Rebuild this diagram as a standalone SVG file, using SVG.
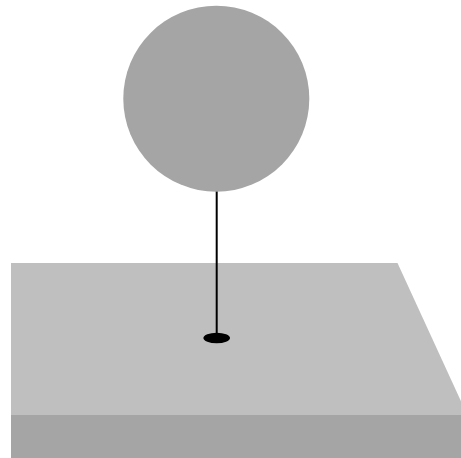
<svg xmlns="http://www.w3.org/2000/svg" width="461" height="458" viewBox="0 0 461 458">
  <style>
    .top { fill: #bfbfbf; }
    .side { fill: #a5a5a5; }
    .balloon { fill: #a5a5a5; }
    .string { stroke: #000; stroke-width: 2; fill: none; }
    .anchor { fill: #000; }
  </style>
  <g id="platform">
    <polygon class="top" points="11,263 397.5,263 467.3,415 11,415"/>
    <rect class="side" x="11" y="415" width="460" height="50"/>
  </g>
  <g id="connectors">
    <line class="string" x1="216.7" y1="190" x2="216.7" y2="338"/>
  </g>
  <g id="balloon">
    <circle class="balloon" cx="216.3" cy="98.7" r="93"/>
  </g>
  <g id="anchor">
    <ellipse class="anchor" cx="216.7" cy="338" rx="13.3" ry="5.3"/>
  </g>
</svg>
